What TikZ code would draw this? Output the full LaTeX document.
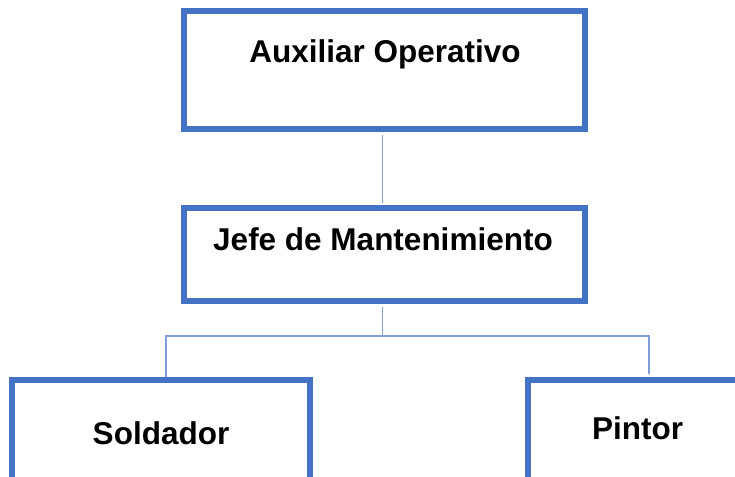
\documentclass[tikz,border=0pt]{standalone}
\usepackage{fontspec}
\setmainfont{Liberation Sans}
\definecolor{boxblue}{HTML}{4472C4}
\definecolor{linkblue}{HTML}{7F9FD9}
\tikzset{
  orgbox/.style={draw=boxblue, line width=5.5pt, rectangle, inner sep=0pt, fill=white},
  orgtext/.style={anchor=base, inner sep=0pt, font=\fontsize{31.5}{36}\selectfont\bfseries},
  link/.style={draw=linkblue, line width=1.6pt}
}
\begin{document}
\begin{tikzpicture}[x=1pt,y=-1pt]
\useasboundingbox (0,0) rectangle (735,476);
\clip (0,0) rectangle (735,476);
% boxes
\node[orgbox, minimum width=401pt, minimum height=118pt] (top) at (384.5,70) {};
\node[orgbox, minimum width=401pt, minimum height=93pt] (mid) at (384.5,254.5) {};
\node[orgbox, minimum width=298pt, minimum height=100pt] (sold) at (161,430) {};
\node[orgbox, minimum width=298pt, minimum height=100pt] (pint) at (677,430) {};
% texts
\node[orgtext] (ttop) at (385,63) {Auxiliar Operativo};
\node[orgtext] (tmid) at (383,250) {Jefe de Mantenimiento};
\node[orgtext] (tsold) at (161,444) {Soldador};
\node[orgtext] (tpint) at (637.5,439) {Pintor};
% connectors
\coordinate (bus) at (382.5,336);
\coordinate (jl) at (166,377);
\coordinate (jr) at (649,374);
\draw[link] ([xshift=-2pt,yshift=-2.75pt]top.south) -- ([xshift=-2pt,yshift=2.75pt]mid.north);
\draw[link] ([xshift=-2pt,yshift=-2.75pt]mid.south) -- (bus);
\draw[link] (bus) -| (jl);
\draw[link] (bus) -| (jr);
\end{tikzpicture}
\end{document}
